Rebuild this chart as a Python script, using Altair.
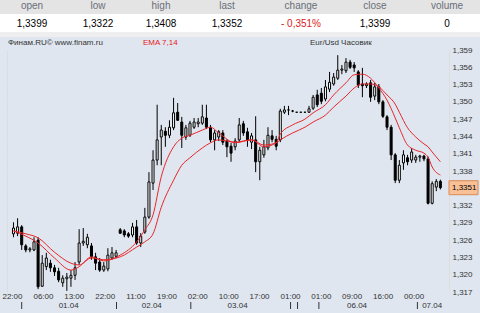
import altair as alt
import pandas as pd

# ---- candle data (hourly EUR/USD) ----
bar_open = [1.3271, 1.3272, 1.3283, 1.3250, 1.3243, 1.3243, 1.3260, 1.3180, 1.3214, 1.3220,
            1.3212, 1.3206, 1.3186, 1.3193, 1.3194, 1.3199, 1.3222, 1.3255, 1.3252, 1.3250,
            1.3231, 1.3222, 1.3208, 1.3210, 1.3229, 1.3232, 1.3278, 1.3276, 1.3271, 1.3269,
            1.3283, 1.3255, 1.3274, 1.3300, 1.3359, 1.3399, 1.3439, 1.3449, 1.3442, 1.3455,
            1.3482, 1.3465, 1.3439, 1.3442, 1.3456, 1.3462, 1.3463, 1.3472, 1.3456, 1.3434,
            1.3439, 1.3446, 1.3432, 1.3423, 1.3422, 1.3434, 1.3462, 1.3448, 1.3430, 1.3434,
            1.3396, 1.3408, 1.3420, 1.3441, 1.3435, 1.3434, 1.3482, 1.3486, 1.3484, 1.3482,
            1.3482, 1.3482, 1.3482, 1.3489, 1.3512, 1.3515, 1.3505, 1.3522, 1.3531, 1.3541,
            1.3555, 1.3554, 1.3569, 1.3564, 1.3552, 1.3531, 1.3528, 1.3533, 1.3510, 1.3526,
            1.3500, 1.3474, 1.3456, 1.3408, 1.3364, 1.3394, 1.3403, 1.3399, 1.3399, 1.3404,
            1.3406, 1.3401, 1.3324, 1.3352, 1.3362]
bar_high = [1.3291, 1.3298, 1.3286, 1.3253, 1.3248, 1.3265, 1.3265, 1.3234, 1.3238, 1.3226,
            1.3217, 1.3212, 1.3199, 1.3203, 1.3208, 1.3222, 1.3279, 1.3281, 1.3271, 1.3255,
            1.3238, 1.3229, 1.3222, 1.3246, 1.3248, 1.3243, 1.3281, 1.3279, 1.3274, 1.3290,
            1.3295, 1.3272, 1.3316, 1.3378, 1.3416, 1.3495, 1.3460, 1.3456, 1.3468, 1.3507,
            1.3498, 1.3474, 1.3460, 1.3467, 1.3472, 1.3472, 1.3495, 1.3495, 1.3460, 1.3451,
            1.3451, 1.3451, 1.3435, 1.3429, 1.3437, 1.3472, 1.3467, 1.3455, 1.3446, 1.3475,
            1.3422, 1.3434, 1.3456, 1.3451, 1.3441, 1.3488, 1.3493, 1.3493, 1.3486, 1.3482,
            1.3482, 1.3482, 1.3493, 1.3512, 1.3521, 1.3524, 1.3538, 1.3552, 1.3550, 1.3581,
            1.3564, 1.3576, 1.3573, 1.3569, 1.3555, 1.3559, 1.3534, 1.3538, 1.3533, 1.3531,
            1.3503, 1.3477, 1.3460, 1.3411, 1.3399, 1.3416, 1.3408, 1.3420, 1.3408, 1.3408,
            1.3408, 1.3405, 1.3362, 1.3366, 1.3365]
bar_low = [1.3265, 1.3267, 1.3243, 1.3239, 1.3239, 1.3241, 1.3175, 1.3179, 1.3208, 1.3205,
           1.3198, 1.3187, 1.3179, 1.3172, 1.3179, 1.3191, 1.3217, 1.3250, 1.3246, 1.3226,
           1.3208, 1.3205, 1.3205, 1.3206, 1.3226, 1.3229, 1.3271, 1.3265, 1.3264, 1.3265,
           1.3252, 1.3248, 1.3271, 1.3297, 1.3347, 1.3390, 1.3390, 1.3422, 1.3437, 1.3451,
           1.3467, 1.3420, 1.3434, 1.3439, 1.3453, 1.3456, 1.3460, 1.3453, 1.3430, 1.3416,
           1.3432, 1.3425, 1.3404, 1.3396, 1.3416, 1.3430, 1.3441, 1.3422, 1.3418, 1.3378,
           1.3364, 1.3403, 1.3416, 1.3430, 1.3416, 1.3430, 1.3479, 1.3477, 1.3482, 1.3482,
           1.3482, 1.3482, 1.3481, 1.3486, 1.3491, 1.3496, 1.3501, 1.3517, 1.3528, 1.3538,
           1.3548, 1.3550, 1.3557, 1.3552, 1.3524, 1.3508, 1.3524, 1.3500, 1.3503, 1.3496,
           1.3472, 1.3451, 1.3399, 1.3359, 1.3359, 1.3382, 1.3390, 1.3394, 1.3394, 1.3396,
           1.3397, 1.3322, 1.3322, 1.3345, 1.3348]
bar_close = [1.3281, 1.3283, 1.3252, 1.3243, 1.3245, 1.3257, 1.3179, 1.3220, 1.3229, 1.3212,
             1.3205, 1.3191, 1.3194, 1.3196, 1.3199, 1.3212, 1.3255, 1.3258, 1.3265, 1.3231,
             1.3220, 1.3208, 1.3215, 1.3234, 1.3238, 1.3238, 1.3272, 1.3269, 1.3267, 1.3283,
             1.3255, 1.3267, 1.3300, 1.3361, 1.3399, 1.3434, 1.3451, 1.3442, 1.3456, 1.3481,
             1.3468, 1.3442, 1.3455, 1.3463, 1.3465, 1.3465, 1.3474, 1.3456, 1.3434, 1.3446,
             1.3448, 1.3430, 1.3422, 1.3411, 1.3432, 1.3460, 1.3446, 1.3434, 1.3441, 1.3396,
             1.3416, 1.3422, 1.3442, 1.3435, 1.3423, 1.3484, 1.3486, 1.3486, 1.3484, 1.3482,
             1.3482, 1.3482, 1.3488, 1.3508, 1.3495, 1.3501, 1.3526, 1.3534, 1.3543, 1.3555,
             1.3557, 1.3569, 1.3560, 1.3559, 1.3529, 1.3528, 1.3531, 1.3508, 1.3526, 1.3500,
             1.3475, 1.3456, 1.3408, 1.3364, 1.3390, 1.3408, 1.3396, 1.3413, 1.3404, 1.3406,
             1.3401, 1.3324, 1.3358, 1.3362, 1.3351]

# ---- EMA 7 / EMA 14 ----
ema_idx = [0, 3, 6, 10, 14, 16, 19, 22, 26, 30, 32, 34, 36, 39, 41, 43, 46, 48, 50, 54,
           58, 61, 64, 65, 68, 71, 73, 76, 78, 81, 83, 85, 87, 89, 91, 93, 94, 96, 98, 100,
           101, 102, 104]
ema7 = [1.3276, 1.3267, 1.3255, 1.3229, 1.3208, 1.3214, 1.3231, 1.3224, 1.3234, 1.3257,
        1.3278, 1.3304, 1.3370, 1.3422, 1.3437, 1.3442, 1.3451, 1.3456, 1.3446, 1.3429,
        1.3434, 1.3422, 1.3429, 1.3444, 1.3460, 1.3470, 1.3481, 1.3495, 1.3512, 1.3533,
        1.3547, 1.3548, 1.3541, 1.3524, 1.3503, 1.3472, 1.3455, 1.3425, 1.3416, 1.3411,
        1.3404, 1.3387, 1.3373]
ema14 = [1.3276, 1.3271, 1.3264, 1.3239, 1.3220, 1.3217, 1.3229, 1.3226, 1.3231, 1.3248,
         1.3257, 1.3271, 1.3317, 1.3364, 1.3390, 1.3403, 1.3420, 1.3429, 1.3434, 1.3430,
         1.3434, 1.3425, 1.3429, 1.3434, 1.3446, 1.3456, 1.3465, 1.3477, 1.3491, 1.3510,
         1.3524, 1.3531, 1.3531, 1.3526, 1.3512, 1.3496, 1.3482, 1.3455, 1.3439, 1.3427,
         1.3422, 1.3413, 1.3396]

# ---- axis labels ----
time_labels = ["22:00", "06:00", "13:00", "22:00", "11:00", "19:00", "02:00",
               "10:00", "17:00", "01:00", "01:00", "09:00", "16:00", "00:00"]
time_pos = [-0.25, 7.3, 14.8, 22.35, 29.85, 37.4, 44.9, 52.45, 59.95, 67.5, 75.0, 82.5, 90.05, 97.6]
date_labels = ["01.04", "02.04", "03.04", "06.04", "07.04"]
date_pos = [13.45, 33.7, 54.6, 83.7, 102.0]
date_ticks = [2.0, 25.1, 43.2, 67.5, 69.2, 74.4, 98.4]
y_ticks = [1.317, 1.320, 1.323, 1.326, 1.329, 1.332, 1.335, 1.338, 1.341,
           1.344, 1.347, 1.350, 1.353, 1.356, 1.359]

# ---- header table ----
header_names = ["open", "low", "high", "last", "change", "close", "volume"]
header_values = ["1,3399", "1,3322", "1,3408", "1,3352", "- 0,351%", "1,3399", "0"]
header_x = [25, 91, 154, 220, 294, 368, 440]

W, H = 442, 242
GRID = "#e0e5ee"

candles = pd.DataFrame({
    "i": list(range(len(bar_open))),
    "open": bar_open, "high": bar_high, "low": bar_low, "close": bar_close,
})
ema_df = pd.DataFrame({"i": ema_idx, "ema7": ema7, "ema14": ema14})
time_df = pd.DataFrame({"i": time_pos, "lab": time_labels})
date_df = pd.DataFrame({"i": date_pos, "lab": date_labels})
tick_df = pd.DataFrame({"i": date_ticks})
last_df = pd.DataFrame({"p": [bar_close[-1]]})

xs = alt.Scale(domain=[-0.36, 104.88], nice=False, zero=False)
ys = alt.Scale(domain=[1.317, 1.359], nice=False, zero=False)

x_axis = alt.Axis(values=time_pos, grid=True, gridColor=GRID, gridWidth=1,
                  labels=False, ticks=False, domain=False, title=None)
y_axis = alt.Axis(orient="right", values=y_ticks, grid=True, gridColor=GRID, gridWidth=1,
                  ticks=False, tickSize=0, domain=False, title=None, labelPadding=3,
                  labelFontSize=8, labelColor="#333333", labelOverlap=False,
                  labelFont="Liberation Sans",
                  labelExpr="abs(datum.value - 1.335) < 0.0001 ? '' : replace(format(datum.value, '.3f'), '.', ',')")


def X(field="i"):
    return alt.X(f"{field}:Q", scale=xs, axis=x_axis)


def Y(field):
    return alt.Y(f"{field}:Q", scale=ys, axis=y_axis)


def one(df=None):
    return alt.Chart(df if df is not None else pd.DataFrame({"a": [0]}))


def txt(s, x, y, size=10, color="#000000", align="center"):
    return one(pd.DataFrame({"t": [s]})).mark_text(
        align=align, baseline="middle", fontSize=size, color=color, font="Liberation Sans"
    ).encode(x=alt.value(x), y=alt.value(y), text="t:N")


def band(y0, y1, color):
    return one().mark_rect(color=color).encode(
        x=alt.value(-7), x2=alt.value(W + 31), y=alt.value(y0), y2=alt.value(y1))


layers = [band(-50, -36, "#e4e4e4"), band(-36, -18, "#ffffff"), band(-18, -13, "#eeeeee")]
for name, val, hx in zip(header_names, header_values, header_x):
    layers.append(txt(name, hx, -44, 10, "#6a6f78"))
    layers.append(txt(val, hx, -26, 10, "#e0191b" if name == "change" else "#000000"))

layers.append(txt("Финам.RU©  www.finam.ru", 1, -7, 8, "#333333", "left"))
layers.append(txt("EMA 7,14", 136, -7, 8, "#e8191b", "left"))
layers.append(txt("Eur/Usd Часовик", 303, -7, 8, "#333333", "left"))

wicks = alt.Chart(candles).mark_rule(color="black", strokeWidth=1).encode(
    x=X(), y=Y("low"), y2="high:Q")
bodies = alt.Chart(candles).mark_bar(size=2, stroke="black", strokeWidth=1).encode(
    x=X(), y=Y("open"), y2="close:Q",
    fill=alt.condition("datum.close >= datum.open", alt.value("white"), alt.value("black")),
)
line7 = alt.Chart(ema_df).mark_line(color="#e8262a", strokeWidth=1, interpolate="monotone").encode(
    x=X(), y=Y("ema7"))
line14 = alt.Chart(ema_df).mark_line(color="#e8262a", strokeWidth=1, interpolate="monotone").encode(
    x=X(), y=Y("ema14"))

time_txt = alt.Chart(time_df).mark_text(baseline="middle", fontSize=8, color="#333333",
                                        font="Liberation Sans").encode(
    x=X(), y=alt.value(H + 5), text="lab:N")
date_txt = alt.Chart(date_df).mark_text(baseline="middle", fontSize=8, color="#333333",
                                        font="Liberation Sans").encode(
    x=X(), y=alt.value(H + 14), text="lab:N")
date_rule = alt.Chart(tick_df).mark_rule(color="#333333", strokeWidth=1).encode(
    x=X(), y=alt.value(H + 10), y2=alt.value(H + 17))

box = alt.Chart(last_df).mark_rect(fill="#f9c096", stroke="#d98a55", strokeWidth=1,
                                   yOffset=-7, y2Offset=7).encode(
    x=alt.value(W), x2=alt.value(W + 29),
    y=Y("p"), y2="p:Q")
box_txt = alt.Chart(last_df).transform_calculate(
    lbl="replace(format(datum.p, '.4f'), '.', ',')"
).mark_text(align="left", baseline="middle", fontSize=8, color="#000000",
            font="Liberation Sans").encode(
    x=alt.value(W + 3), y=Y("p"), text="lbl:N")

layers += [wicks, bodies, line14, line7, time_txt, date_txt, date_rule, box, box_txt]

chart = alt.layer(*layers).properties(
    width=W, height=H,
    padding={"left": 7, "top": 50, "right": 31, "bottom": 21},
    autosize=alt.AutoSizeParams(type="none"),
    background="#dfe6ef",
).configure_view(
    fill="white", stroke="#6d6d6d", strokeWidth=1
).configure(font="Liberation Sans")

chart.save("out.html", embed_options={"renderer": "svg", "actions": False})
